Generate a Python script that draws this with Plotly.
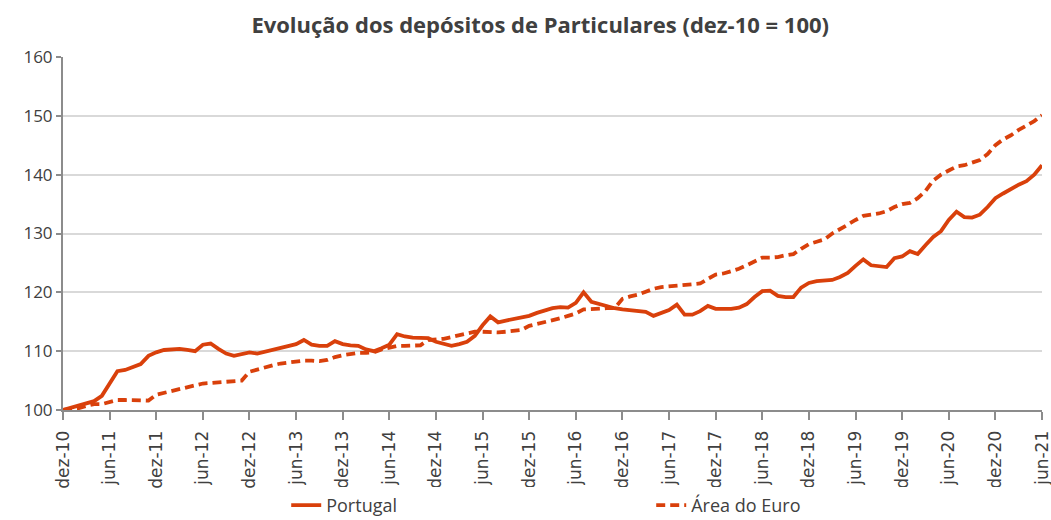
import plotly.graph_objects as go

# Monthly index levels, dez-10 = 100 (dez-10 ... jun-21)
month_names = ["jan", "fev", "mar", "abr", "mai", "jun",
               "jul", "ago", "set", "out", "nov", "dez"]
months = ["dez-10"] + [f"{m}-{y:02d}" for y in range(11, 22) for m in month_names][:126]

portugal = [
    100.0, 100.4, 100.8, 101.2, 101.5, 102.4, 104.5, 106.6, 106.8, 107.3,
    107.8, 109.2, 109.8, 110.2, 110.3, 110.4, 110.2, 110.0, 111.1, 111.3,
    110.4, 109.6, 109.2, 109.5, 109.8, 109.6, 109.9, 110.2, 110.5, 110.9,
    111.2, 111.9, 111.1, 110.9, 110.9, 111.7, 111.2, 111.0, 110.9, 110.3,
    110.0, 110.5, 111.1, 112.9, 112.5, 112.3, 112.2, 112.2, 111.6, 111.2,
    110.9, 111.2, 111.6, 112.6, 114.4, 115.9, 114.9, 115.2, 115.5, 115.7,
    116.0, 116.5, 116.9, 117.3, 117.5, 117.4, 118.2, 120.0, 118.4, 118.0,
    117.7, 117.3, 117.1, 117.0, 116.9, 116.7, 116.0, 116.5, 117.0, 117.9,
    116.2, 116.2, 116.8, 117.7, 117.2, 117.2, 117.2, 117.4, 118.0, 119.2,
    120.2, 120.3, 119.4, 119.2, 119.2, 120.8, 121.6, 121.9, 122.0, 122.1,
    122.6, 123.3, 124.5, 125.6, 124.6, 124.4, 124.3, 125.8, 126.1, 127.0,
    126.5, 128.0, 129.4, 130.4, 132.3, 133.7, 132.8, 132.7, 133.2, 134.5,
    136.0, 136.8, 137.6, 138.3, 138.9, 140.0, 141.6,
]

area_euro = [
    100.0, 100.1, 100.3, 100.7, 101.0, 101.0, 101.4, 101.7, 101.7, 101.7,
    101.6, 101.6, 102.6, 102.9, 103.2, 103.5, 103.9, 104.1, 104.5, 104.6,
    104.7, 104.8, 104.9, 105.0, 106.5, 106.9, 107.3, 107.6, 107.9, 108.1,
    108.3, 108.4, 108.4, 108.3, 108.5, 109.0, 109.3, 109.5, 109.7, 109.7,
    109.8, 110.3, 110.6, 110.9, 110.9, 110.9, 111.0, 111.9, 112.0, 112.1,
    112.4, 112.7, 113.0, 113.3, 113.3, 113.2, 113.2, 113.3, 113.4, 113.6,
    114.3, 114.6, 114.9, 115.3, 115.6, 116.0, 116.4, 117.1, 117.2, 117.3,
    117.3, 117.3, 118.9, 119.3, 119.6, 120.1, 120.6, 120.9, 121.0, 121.1,
    121.2, 121.3, 121.5, 122.3, 123.0, 123.2, 123.6, 124.0, 124.6, 125.3,
    125.9, 125.9, 126.0, 126.3, 126.5, 127.4, 128.2, 128.6, 129.0, 130.0,
    130.7, 131.5, 132.3, 133.0, 133.2, 133.4, 133.8, 134.5, 135.0, 135.2,
    136.0, 137.2, 139.0, 140.0, 140.7, 141.4, 141.6, 142.0, 142.5, 143.5,
    145.0, 146.0, 146.7, 147.6, 148.3, 149.1, 150.1,
]

y_ticks = [100, 110, 120, 130, 140, 150, 160]

x = list(range(len(months)))
tick_idx = list(range(0, len(months), 6))
tick_text = [months[i] for i in tick_idx]

line_color = "#D9400B"

fig = go.Figure()
fig.add_trace(go.Scatter(
    x=x, y=portugal, name="Portugal", mode="lines",
    line=dict(color=line_color, width=3.8),
))
fig.add_trace(go.Scatter(
    x=x, y=area_euro, name="Área do Euro", mode="lines",
    line=dict(color=line_color, width=3.8, dash="9px,5px"),
))

fig.update_layout(
    width=1051, height=520,
    margin=dict(l=63, r=9, t=57, b=110, autoexpand=False),
    paper_bgcolor="white", plot_bgcolor="white",
    title=dict(
        text="<b>Evolução dos depósitos de Particulares (dez-10 = 100)</b>",
        x=0.514, xanchor="center", y=0.952, yanchor="middle",
        font=dict(family="Open Sans", size=22, color="#404040"),
    ),
    xaxis=dict(
        range=[0, len(months) - 1], automargin=False,
        tickmode="array", tickvals=tick_idx, ticktext=tick_text,
        tickangle=-90, ticklabelstandoff=4, ticklabeloverflow="allow",
        tickfont=dict(family="DejaVu Sans", size=17, color="#404040"),
        showgrid=False, zeroline=False,
        showline=True, linecolor="#8c8c8c", linewidth=2,
        ticks="outside", ticklen=8, tickcolor="#8c8c8c", tickwidth=1.5,
    ),
    yaxis=dict(
        range=[100, 160], automargin=False,
        tickmode="array", tickvals=y_ticks,
        tickfont=dict(family="Open Sans", size=17, color="#404040"),
        showgrid=True, gridcolor="#d9d9d9", gridwidth=1.5,
        zeroline=False,
        showline=True, linecolor="#8c8c8c", linewidth=2,
        ticks="outside", ticklen=5, tickcolor="#8c8c8c", tickwidth=1.5,
    ),
    legend=dict(
        orientation="h", x=0.228, xanchor="left", y=-0.218, yanchor="top",
        font=dict(family="Open Sans", size=18, color="#404040"),
        entrywidth=320, entrywidthmode="pixels",
    ),
    showlegend=True,
)

fig.write_html("out.html")
